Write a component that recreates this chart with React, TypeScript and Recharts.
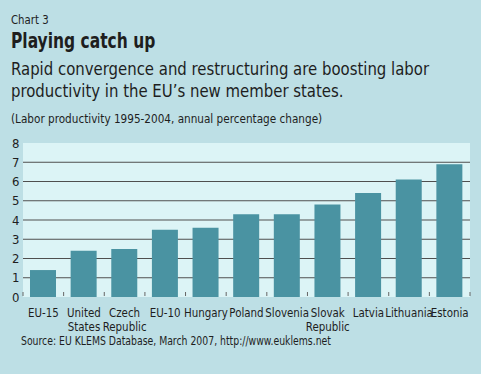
import React from "react";
import { BarChart, Bar, XAxis, YAxis, CartesianGrid } from "recharts";

const categories = ["EU-15", "United States", "Czech Republic", "EU-10", "Hungary", "Poland", "Slovenia", "Slovak Republic", "Latvia", "Lithuania", "Estonia"];
const productivity = [1.4, 2.4, 2.5, 3.5, 3.6, 4.3, 4.3, 4.8, 5.4, 6.1, 6.9];
const yTicks = [0, 1, 2, 3, 4, 5, 6, 7, 8];

const data = categories.map((c, i) => ({ name: c, value: productivity[i] }));

const W = 481;
const H = 374;
const TOP = 143;
const BOTTOM = 297;
const LEFT = 23;
const RIGHT = 470;
const BAND = (RIGHT - LEFT) / categories.length;

const FONT = "'DejaVu Sans Condensed', 'DejaVu Sans', sans-serif";
const INK = "#1e1e1e";

const XTick = (props: any) => {
  const { x, payload, index } = props;
  const words = String(payload.value).split(" ");
  const bx = x - BAND / 2;
  return (
    <g>
      <line x1={bx} x2={bx} y1={BOTTOM - 5} y2={BOTTOM - 1} stroke="#666" strokeWidth={1} />
      {index === categories.length - 1 && (
        <line x1={x + BAND / 2} x2={x + BAND / 2} y1={BOTTOM - 5} y2={BOTTOM - 1} stroke="#666" strokeWidth={1} />
      )}
      {words.map((w, i) => (
        <text
          key={i}
          transform={`translate(${x},${BOTTOM + 19.8 + i * 14}) scale(0.88,1)`}
          textAnchor="middle"
          fontSize={13}
          fill={INK}
          fontFamily={FONT}
        >
          {w}
        </text>
      ))}
    </g>
  );
};

const YTick = (props: any) => {
  const { y, payload } = props;
  return (
    <text x={19.5} y={y + 4.6} textAnchor="end" fontSize={13} fill={INK} fontFamily={FONT}>
      {payload.value}
    </text>
  );
};

const GridLine = (props: any) => {
  const { x1, x2, y1, y2 } = props;
  if (y1 <= TOP + 1 || y1 >= BOTTOM - 1) return <g />;
  return <line x1={x1} x2={x2} y1={y1} y2={y2} stroke="#4f4f4f" strokeWidth={1} />;
};

const txt = (left: number, top: number, size: number, sx: number, extra: React.CSSProperties = {}) => ({
  position: "absolute" as const,
  left,
  top,
  fontSize: size,
  lineHeight: `${size}px`,
  fontFamily: FONT,
  color: INK,
  whiteSpace: "nowrap" as const,
  transform: `scaleX(${sx})`,
  transformOrigin: "0 0",
  ...extra,
});

export default function App() {
  return (
    <div style={{ position: "fixed", left: 0, top: 0, width: W, height: H, background: "#bddfe5", overflow: "hidden" }}>
      <div style={txt(10.5, 12.7, 13, 0.87)}>Chart 3</div>
      <div style={txt(10.5, 30.5, 21, 0.82, { fontWeight: "bold" })}>Playing catch up</div>
      <div style={txt(10.5, 61, 17, 0.975)}>Rapid convergence and restructuring are boosting labor</div>
      <div style={txt(10.5, 82.6, 17, 0.975)}>productivity in the EU’s new member states.</div>
      <div style={txt(10.5, 112.6, 12, 0.97)}>(Labor productivity 1995-2004, annual percentage change)</div>
      <div style={txt(20.5, 335.6, 11.5, 0.9)}>Source: EU KLEMS Database, March 2007, http://www.euklems.net</div>
      <div style={{ position: "absolute", left: 0, top: 0 }}>
        <BarChart width={W} height={H} data={data} margin={{ top: TOP, right: W - RIGHT, bottom: 0, left: 0 }} barSize={26}>
          <CartesianGrid vertical={false} horizontal={GridLine} fill="#dcf4f6" stroke="none" />
          <YAxis width={LEFT} domain={[0, 8]} ticks={yTicks} axisLine={false} tickLine={false} tick={YTick} interval={0} />
          <XAxis dataKey="name" height={H - BOTTOM} axisLine={false} tickLine={false} tick={XTick} interval={0} />
          <Bar dataKey="value" fill="#4a93a2" isAnimationActive={false} />
        </BarChart>
      </div>
    </div>
  );
}
